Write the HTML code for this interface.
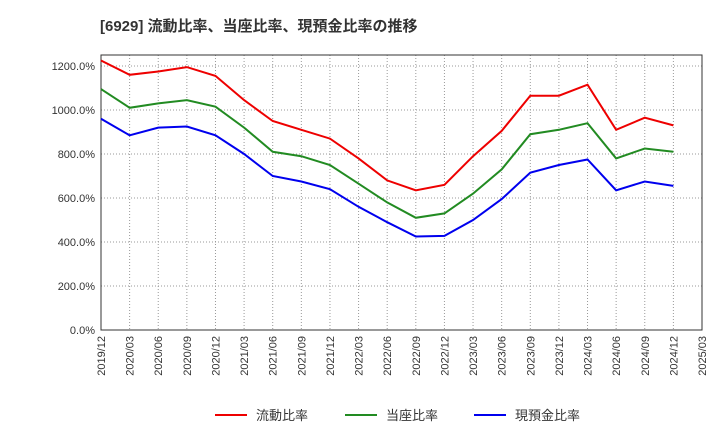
<!DOCTYPE html>
<html><head><meta charset="utf-8"><style>
body{margin:0;background:#fff;font-family:"Liberation Sans","Noto Sans CJK JP",sans-serif;}
</style></head><body>
<svg id="chart" width="720" height="440" xmlns="http://www.w3.org/2000/svg" font-family="Liberation Sans, Noto Sans CJK JP, sans-serif">
<text x="100" y="31" font-size="15" font-weight="bold" fill="#333">[6929]  流動比率、当座比率、現預金比率の推移</text>
<g id="grid"></g><g id="axes"></g><g id="series"></g>
<g id="legend">
<line x1="215" y1="415" x2="247" y2="415" stroke="#e00" stroke-width="2"/><text x="256" y="420" font-size="13" fill="#333">流動比率</text>
<line x1="345" y1="415" x2="377" y2="415" stroke="#228b22" stroke-width="2"/><text x="386" y="420" font-size="13" fill="#333">当座比率</text>
<line x1="474" y1="415" x2="506" y2="415" stroke="#00e" stroke-width="2"/><text x="515" y="420" font-size="13" fill="#333">現預金比率</text>
</g>
</svg>
<script>
const xLabels=["2019/12","2020/03","2020/06","2020/09","2020/12","2021/03","2021/06","2021/09","2021/12","2022/03","2022/06","2022/09","2022/12","2023/03","2023/06","2023/09","2023/12","2024/03","2024/06","2024/09","2024/12","2025/03"];
const yTicks=[0,200,400,600,800,1000,1200];
const currentRatio=[1225,1160,1175,1195,1155,1045,950,910,870,780,680,635,660,790,905,1065,1065,1115,910,965,930];
const quickRatio=[1095,1010,1030,1045,1015,920,810,790,750,665,580,510,530,620,730,890,910,940,780,825,810];
const cashRatio=[960,885,920,925,885,800,700,675,640,560,490,425,428,500,595,715,750,775,635,675,655];
const L=101,R=702,T=55,B=330,YMAX=1250;
const NS="http://www.w3.org/2000/svg";
const xS=i=>L+(R-L)*i/(xLabels.length-1);
const yS=v=>B-(B-T)*v/YMAX;
const grid=document.getElementById('grid'),axes=document.getElementById('axes'),ser=document.getElementById('series');
function mk(tag,attrs,parent){const e=document.createElementNS(NS,tag);for(const k in attrs)e.setAttribute(k,attrs[k]);parent.appendChild(e);return e;}
yTicks.forEach(v=>{
 const g=mk('line',{x1:L,x2:R,y1:yS(v),y2:yS(v),stroke:'#999','stroke-dasharray':'1,2'},grid);
 
 
 const t=mk('text',{x:L-6,y:yS(v)+4,'text-anchor':'end','font-size':11,fill:'#333'},axes);
 
 
 t.textContent=v.toFixed(1)+'%';
});
xLabels.forEach((lab,i)=>{
 const g=mk('line',{x1:xS(i),x2:xS(i),y1:T,y2:B,stroke:'#999','stroke-dasharray':'1,2'},grid);
 
 
 const t=mk('text',{x:0,y:0,'text-anchor':'end','font-size':11,fill:'#333',transform:`translate(${xS(i)+4},${B+6}) rotate(-90)`},axes);
 
 
 t.textContent=lab;
});
const frame=mk('rect',{x:L,y:T,width:R-L,height:B-T,fill:'none',stroke:'#333'},axes);


[[currentRatio,'#e00','current-ratio-line'],[quickRatio,'#228b22','quick-ratio-line'],[cashRatio,'#00e','cash-ratio-line']].forEach(([d,c,n])=>{
 const p=mk('polyline',{points:d.map((v,i)=>xS(i)+','+yS(v)).join(' '),fill:'none',stroke:c,'stroke-width':2},ser);
 
 
});
</script>
</body></html>
